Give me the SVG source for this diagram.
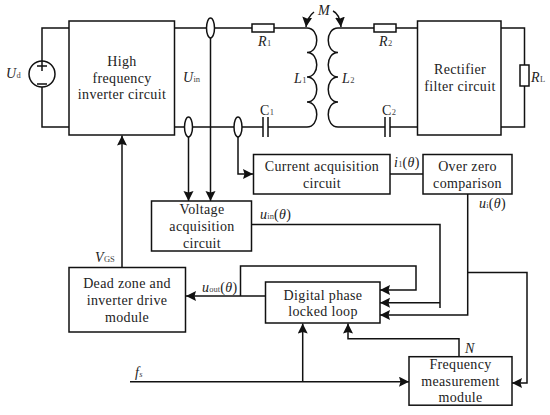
<svg xmlns="http://www.w3.org/2000/svg" width="550" height="415" viewBox="0 0 550 415">
<style>
.b{fill:#fff;stroke:#111;stroke-width:1.5}
.w{fill:none;stroke:#111;stroke-width:1.5}
.e{fill:#fff;stroke:#111;stroke-width:1.5}
text{font-family:"Liberation Serif","Times New Roman",serif;font-size:14px;fill:#222;letter-spacing:.35px}
.c{text-anchor:middle}
.i{font-style:italic}
.n{font-style:normal}
.s{font-size:8.5px;font-style:normal;letter-spacing:0;fill:#444}
</style>
<defs>
<marker id="a" markerUnits="userSpaceOnUse" markerWidth="11" markerHeight="11" refX="10" refY="5" orient="auto"><path d="M0 0L10 5L0 10L1.500 5Z" fill="#111"/></marker>
</defs>
<g id="connectors">
<path class="w" d="M69 28H42V127H69"/>
<path class="w" d="M175 28H252M274 28H307"/>
<path class="w" d="M175 127H263M268 127H307"/>
<path class="w" d="M307 28C320 28 320 52.500 307 52.500C320 52.500 320 77 307 77C320 77 320 102 307 102C320 102 320 127 307 127"/>
<path class="w" d="M338 28C325 28 325 52.500 338 52.500C325 52.500 325 77 338 77C325 77 325 102 338 102C325 102 325 127 338 127"/>
<path class="w" d="M338 28H374M396 28H417M338 127H385M390 127H417"/>
<path class="w" d="M263 117V137M268 117V137M385 117V137M390 117V137"/>
<path class="w" d="M501 28H524.500V127H501"/>
<path class="w" marker-end="url(#a)" d="M314 12C310 15 307 19 306 27"/>
<path class="w" marker-end="url(#a)" d="M333 11C338 13 340 18 341 27"/>
<path class="w" marker-end="url(#a)" d="M188.500 137V201"/>
<path class="w" marker-end="url(#a)" d="M210.500 38V201"/>
<path class="w" marker-end="url(#a)" d="M238 137V174H253"/>
<path class="w" d="M390 174H423"/>
<path class="w" marker-end="url(#a)" d="M122 267V135.500"/>
<path class="w" marker-end="url(#a)" d="M265.500 296H186"/>
<path class="w" marker-end="url(#a)" d="M240.500 296V266H416V290H380"/>
<path class="w" d="M251.500 224.500H440V308"/>
<path class="w" marker-end="url(#a)" d="M440 302.700H380"/>
<path class="w" marker-end="url(#a)" d="M467.700 194V315H380"/>
<path class="w" marker-end="url(#a)" d="M467.700 272.500H527V383H512"/>
<path class="w" marker-end="url(#a)" d="M130 381.700H409"/>
<path class="w" marker-end="url(#a)" d="M302.700 381.700V323.500"/>
<path class="w" marker-end="url(#a)" d="M459 357V338.700H348V323.500"/>
<ellipse class="e" cx="210.500" cy="28" rx="4" ry="10"/>
<ellipse class="e" cx="188.500" cy="127" rx="4" ry="10"/>
<ellipse class="e" cx="238" cy="127" rx="4" ry="10"/>
</g>
<g id="source">
<circle class="b" cx="42" cy="74" r="13"/>
<path class="w" d="M37 66H47M42 61V71M37 84H47"/>
<text class="i" x="6" y="78">U<tspan class="s">d</tspan></text>
</g>
<g id="r1"><rect class="b" x="252" y="24" width="22" height="8"/><text class="i" x="258" y="46">R<tspan class="s">1</tspan></text></g>
<g id="r2"><rect class="b" x="374" y="24" width="22" height="8"/><text class="i" x="379" y="46">R<tspan class="s">2</tspan></text></g>
<g id="rl"><rect class="b" x="520" y="65" width="9" height="21"/><text class="i" x="531" y="82">R<tspan class="s">L</tspan></text></g>
<g id="labels">
<text class="i" x="183" y="82">U<tspan class="s">in</tspan></text>
<text x="260" y="115">C<tspan class="s">1</tspan></text>
<text x="382" y="115">C<tspan class="s">2</tspan></text>
<text class="i" x="294" y="83">L<tspan class="s">1</tspan></text>
<text class="i" x="342" y="83">L<tspan class="s">2</tspan></text>
<text class="i" x="318" y="15">M</text>
<text class="i" x="394" y="167">i<tspan class="s">1</tspan><tspan class="n">(</tspan>θ<tspan class="n">)</tspan></text>
<text class="i" x="479" y="208">u<tspan class="s">i</tspan><tspan class="n">(</tspan>θ<tspan class="n">)</tspan></text>
<text class="i" x="260" y="219">u<tspan class="s">in</tspan><tspan class="n">(</tspan>θ<tspan class="n">)</tspan></text>
<text class="i" x="202" y="292">u<tspan class="s">out</tspan><tspan class="n">(</tspan>θ<tspan class="n">)</tspan></text>
<text class="i" x="95" y="262">V<tspan class="s">GS</tspan></text>
<text class="i" x="465" y="353">N</text>
<text class="i" x="135" y="377">f<tspan class="s" font-style="italic" style="font-style:italic">s</tspan></text>
</g>
<g id="inverter"><rect class="b" x="69" y="21" width="105.500" height="114"/>
<text class="c" x="122" y="66">High</text><text class="c" x="122" y="83">frequency</text><text class="c" x="122" y="99">inverter circuit</text></g>
<g id="rectifier"><rect class="b" x="417.500" y="21" width="83.500" height="114"/>
<text class="c" x="460" y="74">Rectifier</text><text class="c" x="460" y="91">filter circuit</text></g>
<g id="current"><rect class="b" x="253.500" y="154.500" width="136.500" height="39.500"/>
<text class="c" x="322" y="171">Current acquisition</text><text class="c" x="322" y="188">circuit</text></g>
<g id="overzero"><rect class="b" x="423" y="154.500" width="89" height="39.500"/>
<text class="c" x="467.500" y="171">Over zero</text><text class="c" x="467.500" y="188">comparison</text></g>
<g id="voltage"><rect class="b" x="151.500" y="201" width="100" height="50"/>
<text class="c" x="202" y="214">Voltage</text><text class="c" x="202" y="231">acquisition</text><text class="c" x="202" y="248">circuit</text></g>
<g id="dead"><rect class="b" x="69" y="267.500" width="116.500" height="64.500"/>
<text class="c" x="127" y="288">Dead zone and</text><text class="c" x="127" y="305">inverter drive</text><text class="c" x="127" y="322">module</text></g>
<g id="dpll"><rect class="b" x="265.500" y="282" width="114.500" height="41"/>
<text class="c" x="323" y="300">Digital phase</text><text class="c" x="323" y="316">locked loop</text></g>
<g id="freq"><rect class="b" x="409" y="356.700" width="103" height="48.500"/>
<text class="c" x="460.500" y="369">Frequency</text><text class="c" x="460.500" y="386">measurement</text><text class="c" x="460.500" y="402">module</text></g>
</svg>
